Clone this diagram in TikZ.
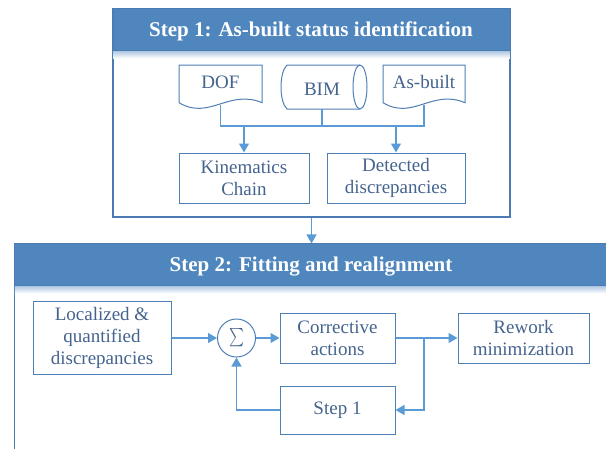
\documentclass[tikz,border=0pt]{standalone}
\usepackage{fontspec}
\setmainfont{Liberation Serif}
\usetikzlibrary{arrows.meta,calc}
\definecolor{hdr}{HTML}{4F86BE}
\definecolor{frm}{HTML}{4A7BB2}
\definecolor{lnk}{HTML}{5B9BD5}
\definecolor{txt}{HTML}{44638E}
\definecolor{bx}{HTML}{4F7FB5}
\begin{document}
\begin{tikzpicture}[x=1pt,y=-1pt,
  box/.style={draw=bx, line width=1pt, rectangle, inner sep=0pt, text=txt, align=center,
              font=\fontsize{19}{22}\selectfont},
  ghost/.style={draw=none, rectangle, inner sep=0pt},
  docline/.style={draw=bx, line width=1pt, fill=white},
  doctext/.style={text=txt, font=\fontsize{19}{22}\selectfont, anchor=base, inner sep=0pt},
  conn/.style={draw=lnk, line width=1.3pt},
  arr/.style={conn, -{Triangle[length=9pt,width=10pt]}},
  framebox/.style={draw=frm, line width=1.1pt, rectangle, inner sep=0pt},
  hdrbar/.style={fill=hdr, draw=frm, line width=1pt, rectangle, inner sep=0pt},
  hdrtext/.style={text=white, font=\fontsize{21}{24}\selectfont\bfseries, anchor=base, inner sep=0pt}
]
\clip (0,0) rectangle (606,448);
\useasboundingbox (0,0) rectangle (606,448);

% ---------- Step 1 frame ----------
\node[framebox, minimum width=397pt, minimum height=208pt] (f1) at (311.5,113) {};
\node[hdrbar, minimum width=397pt, minimum height=42pt, anchor=north] (h1) at (f1.north) {};
\shade[top color=hdr!40, bottom color=white] ($(h1.south west)+(0.6,0.5)$) rectangle ($(h1.south east)+(-0.6,7)$);
\node[hdrtext] (t1) at (311,36.5) {Step 1: As-built status identification};

% DOF document
\node[ghost, minimum width=83pt, minimum height=38pt] (dof) at (220.5,84) {};
\draw[docline] (179,65) -- (262,65) -- (262,102.7)
   .. controls (229,88.7) and (209,120.7) .. (179,102.7) -- cycle;
\node[doctext] (doft) at (220.5,88.3) {DOF};
\coordinate (dofb) at (220.5,104.5);

% As-built document
\node[ghost, minimum width=82pt, minimum height=38pt] (asb) at (424,84) {};
\draw[docline] (383,65) -- (465,65) -- (465,102.7)
   .. controls (432,88.7) and (413,120.7) .. (383,102.7) -- cycle;
\node[doctext] (asbt) at (424,88.3) {As-built};
\coordinate (asbb) at (424,104.5);

% BIM cylinder
\node[ghost, minimum width=87pt, minimum height=44pt] (bim) at (322,87) {};
\draw[docline] (287,65) -- (360,65) arc[start angle=90, end angle=-90, x radius=7, y radius=-22]
   -- (287,109) .. controls (279,102) and (279,72) .. (287,65) -- cycle;
\draw[draw=bx, line width=1pt] (360,65) arc[start angle=90, end angle=270, x radius=7, y radius=-22];
\node[doctext] (bimt) at (322,95) {BIM};

% boxes
\node[box, minimum width=130pt, minimum height=50pt] (kin) at (244,178) {Kinematics\\Chain};
\node[box, minimum width=138pt, minimum height=50pt] (det) at (396,178) {Detected\\discrepancies};

\coordinate (bus) at (0,126);
\draw[conn] (dofb) -- (dofb |- bus) -- (asbb |- bus) -- (asbb);
\draw[conn] (bim.south) -- (bim.south |- bus);
\draw[arr] (kin.north |- bus) -- (kin.north);
\draw[arr] (det.north |- bus) -- (det.north);

% ---------- Step 2 frame ----------
\node[framebox, minimum width=625pt, minimum height=236pt] (f2) at (327.2,362) {};
\node[hdrbar, minimum width=625pt, minimum height=42pt, anchor=north] (h2) at (f2.north) {};
\shade[top color=hdr!40, bottom color=white] ($(h2.south west)+(0.6,0.5)$) rectangle ($(h2.south east)+(-0.6,7)$);
\node[hdrtext] (t2) at (311,271) {Step 2: Fitting and realignment};

\draw[arr] (f1.south) -- (f1.south |- f2.north);

\node[box, minimum width=138pt, minimum height=73pt] (loc) at (102,338) {Localized \&\\quantified\\discrepancies};
\node[draw=bx, line width=1pt, circle, minimum size=38pt, inner sep=0pt, text=txt,
      font=\fontsize{19}{22}\selectfont] (sig) at (236.5,338) {\resizebox{15pt}{17pt}{$\sum$}};
\node[box, minimum width=115pt, minimum height=50pt] (cor) at (337.5,338) {Corrective\\actions};
\node[box, minimum width=131pt, minimum height=50pt] (rew) at (523.5,338) {Rework\\minimization};
\node[box, minimum width=115pt, minimum height=48pt] (st1) at (337.5,410) {Step 1};

\draw[arr] (loc.east) -- (sig.west);
\draw[arr] (sig.east) -- (cor.west);
\draw[arr] (cor.east) -- (rew.west);
\coordinate (br) at (424,338);
\draw[arr] (br) |- (st1.east);
\draw[arr] (st1.west) -| (sig.south);
\end{tikzpicture}
\end{document}
